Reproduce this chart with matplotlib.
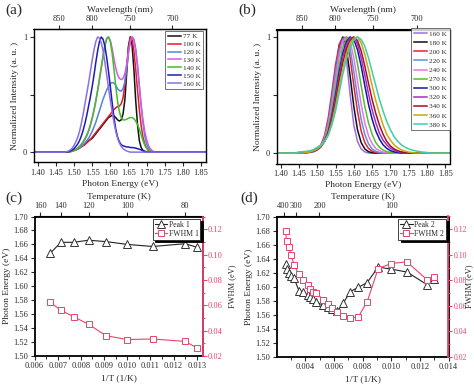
import numpy as np
import matplotlib
matplotlib.use('Agg')
import matplotlib.pyplot as plt
from matplotlib.ticker import MultipleLocator, FixedLocator

plt.rcParams['font.family'] = ['Liberation Serif', 'DejaVu Serif']
plt.rcParams['font.size'] = 6.5
plt.rcParams['text.color'] = '#2a2a2a'
plt.rcParams['axes.labelcolor'] = '#2a2a2a'
plt.rcParams['xtick.color'] = '#2a2a2a'
plt.rcParams['ytick.color'] = '#2a2a2a'

# ---------------- panel (a) data: normalized PL, 0.005 eV grid from 1.470 eV -------------
E_A0 = 1.470
A_labels = ['77 K', '100 K', '120 K', '130 K', '140 K', '150 K', '160 K']
A_colors = ['#111111', '#e8182c', '#4f86d8', '#d45be0', '#3fbf2a', '#1c1cb4', '#8c6fe6']
I_77 = [0, 0, 0, 0, 0.005, 0.01, 0.015, 0.02, 0.03, 0.04, 0.05, 0.06, 0.07, 0.085, 0.1, 0.11,
        0.12, 0.14, 0.16, 0.18, 0.2, 0.22, 0.24, 0.26, 0.28, 0.3, 0.31, 0.32, 0.315, 0.3, 0.28,
        0.27, 0.28, 0.33, 0.45, 0.68, 0.92, 1.0, 0.93, 0.72, 0.45, 0.24, 0.1, 0.04, 0.015, 0.005]
I_100 = [0, 0, 0, 0, 0.005, 0.01, 0.015, 0.02, 0.025, 0.035, 0.045, 0.055, 0.065, 0.08, 0.095,
         0.11, 0.13, 0.15, 0.17, 0.19, 0.21, 0.23, 0.25, 0.27, 0.29, 0.31, 0.33, 0.35, 0.37, 0.385,
         0.395, 0.4, 0.42, 0.47, 0.58, 0.74, 0.9, 1.0, 0.98, 0.88, 0.72, 0.54, 0.37, 0.23, 0.13,
         0.07, 0.035, 0.015, 0.005]
I_120 = [0, 0, 0, 0, 0.005, 0.01, 0.015, 0.02, 0.03, 0.04, 0.05, 0.065, 0.08, 0.1, 0.12, 0.15,
         0.18, 0.22, 0.26, 0.31, 0.36, 0.41, 0.46, 0.5, 0.54, 0.57, 0.595, 0.605, 0.6, 0.58, 0.55,
         0.535, 0.53, 0.55, 0.61, 0.72, 0.86, 0.96, 1.0, 0.98, 0.9, 0.76, 0.58, 0.4, 0.25, 0.14,
         0.07, 0.035, 0.015, 0.005]
I_130 = [0, 0, 0, 0, 0.005, 0.01, 0.015, 0.025, 0.035, 0.05, 0.065, 0.085, 0.11, 0.14, 0.18,
         0.23, 0.29, 0.36, 0.44, 0.53, 0.63, 0.73, 0.83, 0.92, 0.98, 1.0, 0.97, 0.9, 0.81, 0.73,
         0.67, 0.64, 0.63, 0.64, 0.68, 0.76, 0.87, 0.96, 1.0, 0.97, 0.88, 0.74, 0.57, 0.41, 0.28,
         0.18, 0.11, 0.06, 0.03, 0.015, 0.005]
I_140 = [0, 0, 0, 0, 0.005, 0.01, 0.015, 0.025, 0.035, 0.05, 0.07, 0.09, 0.12, 0.15, 0.19, 0.24,
         0.3, 0.37, 0.45, 0.54, 0.64, 0.74, 0.84, 0.93, 0.99, 1.0, 0.96, 0.86, 0.72, 0.57, 0.44,
         0.35, 0.3, 0.28, 0.28, 0.285, 0.295, 0.3, 0.3, 0.29, 0.27, 0.24, 0.2, 0.15, 0.1, 0.06,
         0.035, 0.02, 0.01, 0.005]
I_150 = [0, 0, 0, 0.005, 0.01, 0.02, 0.03, 0.05, 0.07, 0.1, 0.14, 0.19, 0.25, 0.32, 0.4, 0.48,
         0.57, 0.67, 0.78, 0.88, 0.96, 1.0, 0.98, 0.92, 0.82, 0.7, 0.57, 0.43, 0.3, 0.2, 0.13,
         0.09, 0.065, 0.055, 0.05, 0.045, 0.045, 0.04, 0.04, 0.038, 0.035, 0.03, 0.025, 0.02,
         0.012, 0.008, 0.004, 0.002]
I_160 = [0, 0, 0.005, 0.01, 0.02, 0.035, 0.06, 0.09, 0.13, 0.18, 0.25, 0.33, 0.42, 0.51, 0.6,
         0.7, 0.8, 0.89, 0.96, 1.0, 0.99, 0.95, 0.88, 0.78, 0.67, 0.56, 0.45, 0.35, 0.26, 0.18,
         0.12, 0.08, 0.05, 0.03, 0.02, 0.01, 0.005]
A_data = [I_77, I_100, I_120, I_130, I_140, I_150, I_160]

# ---------------- panel (b) data: normalized PL, 0.01 eV grid from 1.45 eV ----------------
E_B0 = 1.45
B_labels = ['160 K', '180 K', '200 K', '220 K', '240 K', '270 K', '300 K', '320 K', '340 K',
            '360 K', '380 K']
B_colors = ['#9a6ee8', '#111111', '#e8203c', '#5f8fe0', '#e27ae6', '#55bf2e', '#1414a8',
            '#a52fc4', '#a3102e', '#c9a814', '#3fcfa6']
J_160 = [0, 0, 0, 0.005, 0.01, 0.025, 0.05, 0.1, 0.2, 0.38, 0.66, 0.94, 1.0, 0.8, 0.5, 0.24,
         0.1, 0.035, 0.01]
J_180 = [0, 0, 0.005, 0.01, 0.015, 0.03, 0.06, 0.12, 0.24, 0.44, 0.7, 0.92, 1.0, 0.9, 0.66, 0.4,
         0.2, 0.09, 0.035, 0.012, 0.003]
J_200 = [0, 0, 0.005, 0.01, 0.02, 0.035, 0.07, 0.15, 0.3, 0.52, 0.76, 0.93, 0.99, 1.0, 0.82,
         0.58, 0.36, 0.19, 0.09, 0.04, 0.015, 0.005]
J_220 = [0, 0, 0.005, 0.01, 0.02, 0.035, 0.065, 0.13, 0.26, 0.46, 0.7, 0.88, 0.98, 1.0, 0.9,
         0.7, 0.48, 0.29, 0.16, 0.08, 0.035, 0.015, 0.005]
J_240 = [0, 0, 0.005, 0.01, 0.02, 0.035, 0.065, 0.12, 0.23, 0.41, 0.63, 0.83, 0.96, 1.0, 0.96,
         0.82, 0.62, 0.42, 0.26, 0.15, 0.08, 0.04, 0.02, 0.008, 0.003]
J_270 = [0, 0, 0.005, 0.01, 0.02, 0.035, 0.06, 0.11, 0.2, 0.36, 0.56, 0.76, 0.91, 0.99, 1.0,
         0.92, 0.77, 0.58, 0.4, 0.26, 0.16, 0.09, 0.05, 0.025, 0.012, 0.005]
J_300 = [0, 0, 0.005, 0.01, 0.02, 0.035, 0.06, 0.1, 0.18, 0.32, 0.5, 0.7, 0.86, 0.96, 1.0, 0.98,
         0.89, 0.75, 0.58, 0.42, 0.29, 0.19, 0.12, 0.07, 0.04, 0.02, 0.01, 0.005]
J_320 = [0, 0, 0.005, 0.01, 0.02, 0.035, 0.06, 0.1, 0.17, 0.3, 0.47, 0.66, 0.83, 0.94, 0.99,
         1.0, 0.94, 0.82, 0.67, 0.51, 0.37, 0.26, 0.17, 0.11, 0.07, 0.04, 0.025, 0.012, 0.005]
J_340 = [0, 0, 0.005, 0.01, 0.02, 0.035, 0.06, 0.1, 0.17, 0.28, 0.44, 0.62, 0.78, 0.9, 0.97,
         1.0, 0.97, 0.88, 0.75, 0.6, 0.46, 0.34, 0.24, 0.16, 0.1, 0.06, 0.035, 0.02, 0.01, 0.005]
J_360 = [0, 0, 0.005, 0.01, 0.02, 0.035, 0.06, 0.1, 0.16, 0.26, 0.4, 0.57, 0.73, 0.86, 0.95,
         0.99, 1.0, 0.95, 0.85, 0.72, 0.58, 0.45, 0.34, 0.24, 0.16, 0.11, 0.07, 0.045, 0.028,
         0.016, 0.008, 0.004]
J_380 = [0.01, 0.012, 0.015, 0.02, 0.03, 0.05, 0.07, 0.1, 0.15, 0.24, 0.36, 0.52, 0.68, 0.81,
         0.91, 0.97, 1.0, 0.98, 0.92, 0.82, 0.7, 0.58, 0.46, 0.36, 0.27, 0.2, 0.14, 0.1, 0.07,
         0.05, 0.035, 0.025, 0.018, 0.012, 0.008, 0.005]
B_data = [J_160, J_180, J_200, J_220, J_240, J_270, J_300, J_320, J_340, J_360, J_380]

# ---------------- panel (c) data ----------------
invT_c = [0.00667, 0.00714, 0.00769, 0.00833, 0.00909, 0.0100, 0.0111, 0.0125, 0.0130]
peak1 = [1.647, 1.663, 1.663, 1.666, 1.664, 1.660, 1.657, 1.661, 1.656]
fwhm1 = [0.0625, 0.056, 0.051, 0.045, 0.036, 0.033, 0.0334, 0.0315, 0.0265]

# ---------------- panel (d) data ----------------
invT_d = [0.00263, 0.00270, 0.00286, 0.00303, 0.00323, 0.00357, 0.00385, 0.00417, 0.00435,
          0.00455, 0.00476, 0.00526, 0.00556, 0.00588, 0.00625, 0.00667, 0.00714, 0.00769,
          0.00833, 0.00909, 0.0100, 0.0111, 0.0125, 0.0130]
peak2 = [1.632, 1.625, 1.619, 1.615, 1.612, 1.594, 1.592, 1.588, 1.585, 1.582, 1.578, 1.574,
         1.571, 1.568, 1.565, 1.577, 1.593, 1.599, 1.606, 1.628, 1.625, 1.621, 1.603, 1.611]
fwhm2 = [0.119, 0.111, 0.1058, 0.0997, 0.0918, 0.0847, 0.0805, 0.076, 0.0734, 0.0708, 0.070,
         0.065, 0.0616, 0.0582, 0.055, 0.0518, 0.0508, 0.051, 0.0634, 0.0892, 0.0932, 0.0945,
         0.0805, 0.0826]

FW = 474
FH = 384
fig = plt.figure(figsize=(FW / 100, FH / 100), dpi=100)


def px_axes(l, t, r, b):
    return fig.add_axes([l / FW, 1 - b / FH, (r - l) / FW, (b - t) / FH])


def style_axes(ax):
    for s in ax.spines.values():
        s.set_linewidth(1.0)
    ax.tick_params(direction='out', length=3, width=0.8, pad=1.5, labelsize=6)
    ax.tick_params(which='minor', direction='out', length=1.8, width=0.7)


def spectra_panel(ax, E0, step, data, labels, colors, lw):
    grid = np.round(np.arange(1.38, 1.8701, step), 4)
    for vals, lab, col in zip(data, labels, colors):
        full = np.zeros(len(grid))
        i0 = int(round((E0 - 1.38) / step))
        full[i0:i0 + len(vals)] = vals
        ax.plot(grid, full, color=col, lw=lw, label=lab)


def energy_to_wl(e):
    e = np.asarray(e, float)
    with np.errstate(divide='ignore'):
        return 1239.84 / e


def inv(x):
    x = np.asarray(x, float)
    with np.errstate(divide='ignore'):
        return 1.0 / x


# ---- (a)
axa = px_axes(33.5, 29.5, 206, 162.5)
style_axes(axa)
spectra_panel(axa, E_A0, 0.005, A_data, A_labels, A_colors, 1.1)
axa.set_xlim(1.388, 1.864)
axa.set_ylim(-0.09, 1.065)
# ---- (b)
axb = px_axes(276.5, 29.5, 449.5, 163.5)
style_axes(axb)
spectra_panel(axb, E_B0, 0.01, B_data, B_labels, B_colors, 1.1)
axb.set_xlim(1.389, 1.861)
axb.set_ylim(-0.09, 1.065)

for ax in (axa, axb):
    ax.set_xticks([1.40, 1.45, 1.50, 1.55, 1.60, 1.65, 1.70, 1.75, 1.80, 1.85])
    ax.set_xticklabels(['%.2f' % v for v in [1.40, 1.45, 1.50, 1.55, 1.60, 1.65, 1.70, 1.75,
                                               1.80, 1.85]])
    ax.set_yticks([0, 0.5, 1])
    ax.set_yticklabels(['0', '', '1'])
    ax.set_xlabel('Photon Energy (eV)', fontsize=6.8, labelpad=2)
    ax.set_ylabel('Normalized Intensity (a. u. )', fontsize=6.8, labelpad=3)
    sec = ax.secondary_xaxis('top', functions=(energy_to_wl, energy_to_wl))
    sec.set_xticks([850, 800, 750, 700])
    sec.set_xticklabels(['850', '800', '750', '700'])
    sec.tick_params(direction='out', length=3, width=0.8, pad=1.5, labelsize=6)
    sec.set_xlabel('Wavelength (nm)', fontsize=6.8, labelpad=2)

lga = axa.legend(loc='upper right', bbox_to_anchor=(0.985, 0.99), fontsize=5.2, frameon=True,
                 fancybox=False, edgecolor='#333333', handlelength=1.8, handletextpad=0.3,
                 labelspacing=0.25, borderpad=0.35, borderaxespad=0.0)
lga.get_frame().set_linewidth(0.6)
lgb = axb.legend(loc='upper right', bbox_to_anchor=(1.0, 1.01), fontsize=5.2, frameon=True,
                 fancybox=False, edgecolor='#333333', handlelength=1.8, handletextpad=0.3,
                 labelspacing=0.42, borderpad=0.35, borderaxespad=0.0)
lgb.get_frame().set_linewidth(0.6)

PINK = '#e8446c'


def temp_panel(ax, x, y1, y2, lab1, lab2, xlim, xticks, xminor, tticks, rlab_x, rsize):
    style_axes(ax)
    for s in ax.spines.values():
        s.set_linewidth(1.3)
    ax2 = ax.twinx()
    l1, = ax.plot(x, y1, color='#222222', lw=0.8, marker='^', ms=5.5, mfc='white',
                  mec='#333333', mew=0.7, label=lab1)
    l2, = ax2.plot(x, y2, color=PINK, lw=0.8, marker='s', ms=4.8, mfc='white', mec=PINK,
                   mew=0.7, label=lab2)
    ax.set_xlim(*xlim)
    ax.set_ylim(1.50, 1.70)
    ax.set_yticks(np.round(np.arange(1.50, 1.7001, 0.02), 2))
    ax.set_yticklabels(['%.2f' % v for v in np.arange(1.50, 1.7001, 0.02)])
    ax.set_xticks(xticks)
    ax.set_xticklabels(['%.3f' % v for v in xticks])
    ax.xaxis.set_minor_locator(FixedLocator(xminor))
    ax2.set_ylim(0.02, 0.13)
    ax2.set_yticks([0.02, 0.04, 0.06, 0.08, 0.10, 0.12])
    ax2.set_yticklabels(['0.02', '0.04', '0.06', '0.08', '0.10', '0.12'])
    ax2.yaxis.set_minor_locator(MultipleLocator(0.01))
    ax2.tick_params(direction='out', length=2.6, width=0.8, pad=1.0, labelsize=rsize,
                    colors=PINK)
    ax2.tick_params(which='minor', direction='out', length=1.6, width=0.7, colors=PINK)
    ax2.spines['right'].set_color(PINK)
    ax2.spines['right'].set_linewidth(1.3)
    for k in ('left', 'top', 'bottom'):
        ax2.spines[k].set_visible(False)
    ax2.set_ylabel('FWHM (eV)', fontsize=6.0, color='#2a2a2a')
    ax2.yaxis.set_label_coords(rlab_x, 0.5)
    ax.set_xlabel('1/T (1/K)', fontsize=6.8, labelpad=2.5)
    ax.set_ylabel('Photon Energy (eV)', fontsize=6.8, labelpad=2)
    sec = ax.secondary_xaxis('top', functions=(inv, inv))
    sec.set_xticks(tticks)
    sec.set_xticklabels([str(t) for t in tticks])
    sec.tick_params(direction='out', length=3, width=0.8, pad=1.5, labelsize=6)
    sec.set_xlabel('Temperature (K)', fontsize=6.8, labelpad=2)
    lg = ax2.legend(handles=[l1, l2], loc='upper right', bbox_to_anchor=(0.985, 0.985),
                    fontsize=5.6, frameon=True, fancybox=False, edgecolor='#222222',
                    handlelength=1.6, handletextpad=0.2, labelspacing=0.15, borderpad=0.25,
                    borderaxespad=0.0, shadow={'color': 'black', 'alpha': 1.0})
    lg.get_frame().set_linewidth(0.6)
    return ax2


axc = px_axes(34.5, 216.5, 203, 356)
temp_panel(axc, invT_c, peak1, fwhm1, 'Peak 1', 'FWHM 1', (0.0060, 0.01327),
           [0.006, 0.007, 0.008, 0.009, 0.010, 0.011, 0.012, 0.013],
           [0.0065, 0.0075, 0.0085, 0.0095, 0.0105, 0.0115, 0.0125], [160, 140, 120, 100, 80],
           (228 - 34.5) / 168.5, 6.0)
axd = px_axes(276.5, 216.5, 448.5, 357)
temp_panel(axd, invT_d, peak2, fwhm2, 'Peak 2', 'FWHM 2', (0.0020, 0.0140),
           [0.004, 0.006, 0.008, 0.010, 0.012, 0.014],
           [0.003, 0.005, 0.007, 0.009, 0.011, 0.013], [400, 300, 200, 100],
           (465.5 - 276.5) / 172, 5.6)

fig.text(5 / FW, 1 - 4 / FH, '(a)', fontsize=11, va='top', ha='left')
fig.text(238 / FW, 1 - 4 / FH, '(b)', fontsize=11, va='top', ha='left')
fig.text(5 / FW, 1 - 192 / FH, '(c)', fontsize=11, va='top', ha='left')
fig.text(240 / FW, 1 - 192 / FH, '(d)', fontsize=11, va='top', ha='left')

fig.savefig('out.png', dpi=100)
